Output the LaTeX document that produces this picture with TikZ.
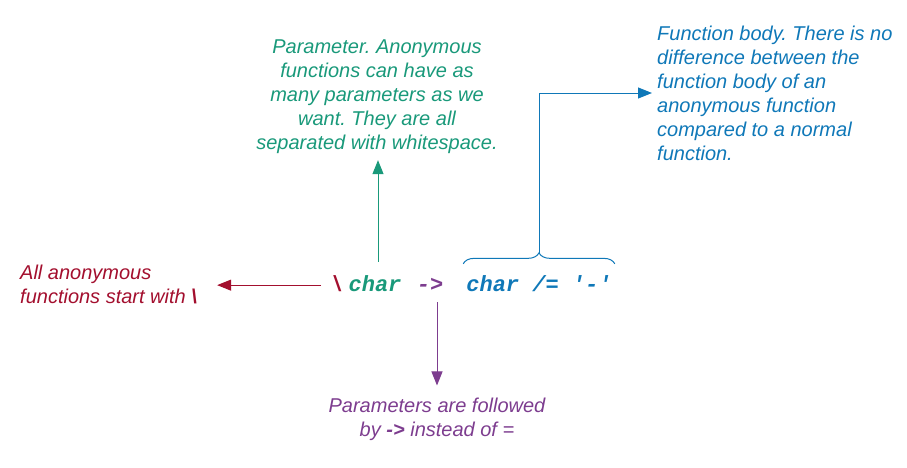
\documentclass[tikz,border=0pt]{standalone}
\usepackage{fontspec}
\setmainfont{Liberation Sans}
\setmonofont{Liberation Mono}
\usepackage{tikz}
\usetikzlibrary{positioning,arrows.meta,decorations.pathreplacing}
\definecolor{crimson}{rgb}{0.64, 0.06, 0.18}
\definecolor{jungle}{rgb}{0.10, 0.60, 0.48}
\definecolor{plum}{rgb}{0.49, 0.24, 0.56}
\definecolor{ocean}{rgb}{0.06, 0.47, 0.72}
\frenchspacing

\begin{document}
\begin{tikzpicture}[x=1pt,y=1pt]
                \tikzset{
                  note/.style={inner sep=0pt,font=\fontsize{20}{24}\selectfont\itshape},
                  code/.style={inner sep=0pt,anchor=base,font=\fontsize{22}{26}\selectfont\ttfamily\bfseries\itshape},
                  fleche/.style={-{Triangle[length=14pt,width=11pt]},line width=1pt},
                  }
                \useasboundingbox (0,0) rectangle (907,467);
                \node[code, text=crimson] (a) at (337,176) {\textbackslash};
                \node[code, text=jungle]  (b) at (375,176) {char};
                \node[code, text=plum]    (c) at (430,176) {->};
                \node[code, text=ocean, inner xsep=3pt] (d) at (539,176) {char /= '-'};
                \node[note, text=crimson, align=left, anchor=west] (e) at (20,183) {All anonymous\\functions start with \textbf{\textbackslash}};
                \node[note, text=jungle, align=center] (f) at (377,370) {Parameter. Anonymous\\functions can have as\\many parameters as we\\want. They are all\\separated with whitespace.};
                \node[note, text=plum, align=center] (g) at (437,48) {Parameters are followed\\by \textbf{->} instead of =};
                \node[note, text=ocean, align=left, anchor=west] (h) at (657,374) {Function body. There is no\\difference between the\\function body of an\\anonymous function\\compared to a normal\\function.};

                \draw[fleche, draw=jungle, shorten <=13pt, shorten >=6pt]
                ([xshift=3pt]b.north) -- ([xshift=3pt]b.north |- f.south);
                \draw[fleche, draw=crimson, shorten <=9pt, shorten >=20pt]
                ([yshift=-2pt]a.west) -- ([yshift=-2pt]a.west -| e.east);
                \draw[fleche, draw=plum, shorten <=11pt, shorten >=12pt]
                ([xshift=7pt]c.south) -- ([xshift=7pt]c.south |- g.north);
                \draw[ocean, line width=1pt, decorate, decoration={brace, amplitude=11pt}]
                ([yshift=11pt]d.north west) -- ([yshift=11pt]d.north east)
                coordinate[midway, yshift=11pt] (tip);
                \draw[fleche, draw=ocean, shorten >=5pt]
                (tip) |- (h.west);
              \end{tikzpicture}
\end{document}
